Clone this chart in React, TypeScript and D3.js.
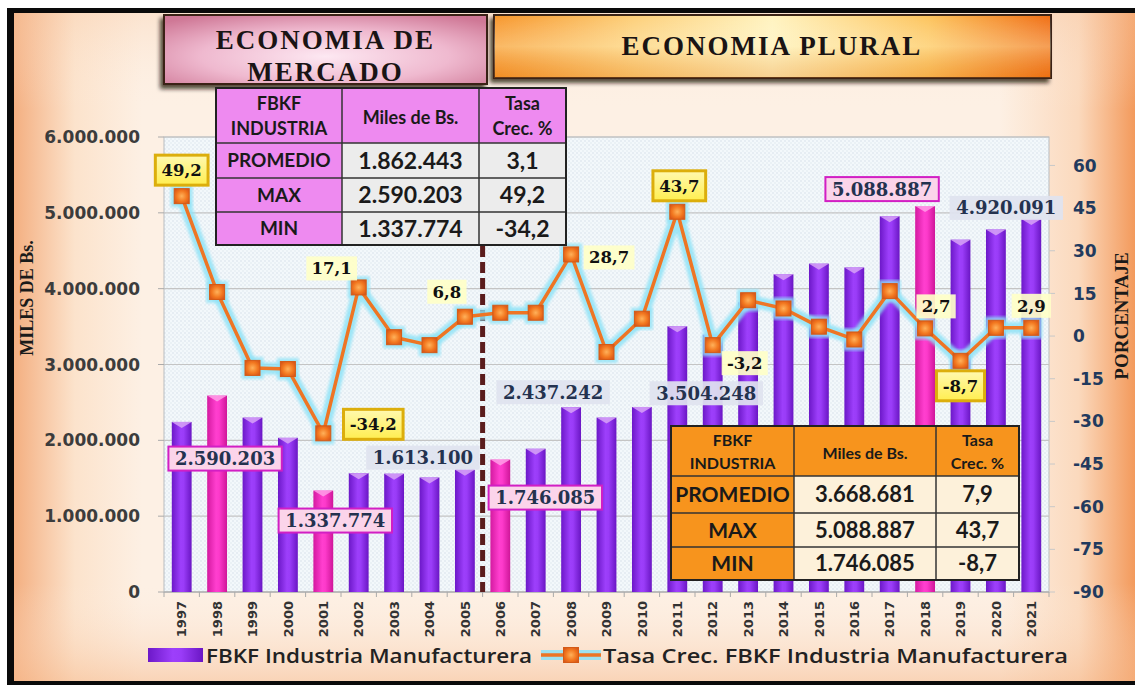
import React from "react";
import * as d3 from "d3";

const years = ["1997","1998","1999","2000","2001","2002","2003","2004","2005","2006","2007","2008","2009","2010","2011","2012","2013","2014","2015","2016","2017","2018","2019","2020","2021"];
const fbkfValues = [2243000,2590203,2300000,2033000,1337774,1566500,1560000,1510400,1613100,1746085,1889000,2437242,2300000,2440000,3504248,3392000,3820000,4190000,4330000,4280000,4955000,5088887,4646000,4781000,4920091];
const tasaValues = [49.2,15.5,-11.2,-11.6,-34.2,17.1,-0.4,-3.2,6.8,8.2,8.2,28.7,-5.6,6.1,43.7,-3.2,12.6,9.7,3.3,-1.2,15.8,2.7,-8.7,2.9,2.9];
const highlightYears = ["1998","2001","2006","2018"];
const leftTickValues = [0,1000000,2000000,3000000,4000000,5000000,6000000];
const rightTickValues = [-90,-75,-60,-45,-30,-15,0,15,30,45,60];
const statLabels = ["PROMEDIO","MAX","MIN"];
const stats1Miles = [1862443,2590203,1337774];
const stats1Tasa = [3.1,49.2,-34.2];
const stats2Miles = [3668681,5088887,1746085];
const stats2Tasa = [7.9,43.7,-8.7];
const titleLeft = ["ECONOMIA DE","MERCADO"];
const titleRight = "ECONOMIA PLURAL";
const legendBar = "FBKF Industria Manufacturera";
const legendLine = "Tasa Crec. FBKF Industria Manufacturera";
const axisLeftTitle = "MILES DE Bs.";
const axisRightTitle = "PORCENTAJE";
const splitYear = "2006";

// annotation placement (offsets from the data point)
const barLabelCfg = [
  { year: "1998", dx: 8, dy: 63, style: "pink" },
  { year: "2001", dx: 12, dy: 30, style: "pink" },
  { year: "2005", dx: -42, dy: -12, style: "blue" },
  { year: "2006", dx: 45, dy: 38, style: "pink" },
  { year: "2008", dx: -18, dy: -15, style: "blue" },
  { year: "2011", dx: 29, dy: 67, style: "blue" },
  { year: "2018", dx: -43, dy: -17, style: "pink" },
  { year: "2021", dx: -25, dy: -11, style: "blue" },
];
const rateLabelCfg = [
  { year: "1997", dx: 0, dy: -26, style: "box" },
  { year: "2001", dx: 50, dy: -9, style: "box" },
  { year: "2002", dx: -27, dy: -19, style: "pale" },
  { year: "2005", dx: -18, dy: -25, style: "pale" },
  { year: "2008", dx: 38, dy: 3, style: "pale" },
  { year: "2011", dx: 2, dy: -26, style: "box" },
  { year: "2012", dx: 32, dy: 18, style: "pale" },
  { year: "2018", dx: 11, dy: -22, style: "pale" },
  { year: "2019", dx: 0, dy: 25, style: "box" },
  { year: "2021", dx: 0, dy: -22, style: "pale" },
];

const locale = d3.formatLocale({ decimal: ",", thousands: ".", grouping: [3], currency: ["", ""], minus: "-" });
const fmtInt = locale.format(",.0f");
const fmtPct = locale.format(".1f");
const fmtTick = locale.format("d");

const W = 1135, H = 685;
const PL = 164, PR = 1049, PT = 137, PB = 592;

function textW(s: string, fs: number) {
  let w = 0;
  for (const c of s) w += /[0-9]/.test(c) ? 0.696 : c === "-" ? 0.415 : 0.38;
  return w * fs;
}

export default function App() {
  const x = d3.scaleBand<string>().domain(years).range([PL, PR]).paddingInner(0.44).paddingOuter(0.22);
  const bw = x.bandwidth();
  const cx = (yr: string) => (x(yr) as number) + bw / 2;
  const yL = d3.scaleLinear().domain([0, 6000000]).range([PB, PT]);
  const yR = d3.scaleLinear().domain([-90, 70]).range([PB, PT]);
  const step = x.step();

  const pts = years.map((yr, i) => [cx(yr), yR(tasaValues[i])] as [number, number]);
  const linePath = d3.line()(pts) as string;

  const serif = "'DejaVu Serif', serif";
  const tSerif = "'Liberation Serif', 'Times New Roman', serif";
  const sans = "'DejaVu Sans', sans-serif";
  const cal = "Lato, 'Open Sans', sans-serif";

  const splitX = (x(splitYear) as number) - (step - bw) / 2;

  const table = (x0: number, cols: number[], rows: number[], miles: number[], tasa: number[], theme: "pink" | "orange") => {
    const head = theme === "pink" ? "#ee8af0" : "#f7941d";
    const cell = theme === "pink" ? "#ececec" : "#fdf1da";
    const hfs = theme === "pink" ? 18 : 16;
    const lfs = theme === "pink" ? 19 : 21;
    const vfs = theme === "pink" ? 23 : 22;
    const xs = [x0, ...cols];
    return (
      <g fontFamily={cal} fontWeight={700} fill="#1a1a1a">
        <rect x={xs[0]} y={rows[0]} width={xs[3] - xs[0]} height={rows[1] - rows[0]} fill={head} />
        <rect x={xs[0]} y={rows[1]} width={xs[1] - xs[0]} height={rows[4] - rows[1]} fill={head} />
        <rect x={xs[1]} y={rows[1]} width={xs[3] - xs[1]} height={rows[4] - rows[1]} fill={cell} />
        {[1, 2, 3].map(r => <line key={"r" + r} x1={xs[0]} x2={xs[3]} y1={rows[r]} y2={rows[r]} stroke="#333" strokeWidth={1.5} />)}
        {[1, 2].map(c => <line key={"c" + c} x1={xs[c]} x2={xs[c]} y1={rows[0]} y2={rows[4]} stroke="#333" strokeWidth={1.5} />)}
        <rect x={xs[0]} y={rows[0]} width={xs[3] - xs[0]} height={rows[4] - rows[0]} fill="none" stroke="#222" strokeWidth={2} />
        <text x={(xs[0] + xs[1]) / 2} y={rows[0] + (rows[1] - rows[0]) * 0.4} textAnchor="middle" fontSize={hfs}>FBKF</text>
        <text x={(xs[0] + xs[1]) / 2} y={rows[0] + (rows[1] - rows[0]) * 0.85} textAnchor="middle" fontSize={hfs}>INDUSTRIA</text>
        <text x={(xs[1] + xs[2]) / 2} y={rows[0] + (rows[1] - rows[0]) * 0.66} textAnchor="middle" fontSize={hfs}>Miles de Bs.</text>
        <text x={(xs[2] + xs[3]) / 2} y={rows[0] + (rows[1] - rows[0]) * 0.4} textAnchor="middle" fontSize={hfs}>Tasa</text>
        <text x={(xs[2] + xs[3]) / 2} y={rows[0] + (rows[1] - rows[0]) * 0.85} textAnchor="middle" fontSize={hfs}>Crec. %</text>
        {statLabels.map((s, i) => {
          const yc = (rows[i + 1] + rows[i + 2]) / 2;
          return (
            <g key={s}>
              <text x={(xs[0] + xs[1]) / 2} y={yc} dy="0.36em" textAnchor="middle" fontSize={lfs}>{s}</text>
              <text x={(xs[1] + xs[2]) / 2} y={yc} dy="0.36em" textAnchor="middle" fontSize={vfs}>{fmtInt(miles[i])}</text>
              <text x={(xs[2] + xs[3]) / 2} y={yc} dy="0.36em" textAnchor="middle" fontSize={vfs}>{fmtPct(tasa[i])}</text>
            </g>
          );
        })}
      </g>
    );
  };

  return (
    <div style={{ position: "absolute", left: 0, top: 0, width: W, height: H }}>
      <svg width={W} height={H} viewBox={`0 0 ${W} ${H}`} style={{ display: "block" }}>
        <defs>
          <linearGradient id="bgH" x1="0" x2="1" y1="0" y2="0">
            <stop offset="0" stopColor="#f3a978" />
            <stop offset="0.06" stopColor="#fce3cc" />
            <stop offset="0.12" stopColor="#fdf0e4" />
            <stop offset="0.88" stopColor="#fdf0e4" />
            <stop offset="0.95" stopColor="#fbd9bd" />
            <stop offset="1" stopColor="#f39a5c" />
          </linearGradient>
          <linearGradient id="bgV" x1="0" x2="0" y1="0" y2="1">
            <stop offset="0" stopColor="#f8c9a4" stopOpacity="0.35" />
            <stop offset="0.15" stopColor="#fdf0e4" stopOpacity="0" />
            <stop offset="0.85" stopColor="#fdf0e4" stopOpacity="0" />
            <stop offset="1" stopColor="#f6b98c" stopOpacity="0.55" />
          </linearGradient>
          <pattern id="dots" width="4" height="4" patternUnits="userSpaceOnUse">
            <rect width="4" height="4" fill="#f3f8fb" />
            <circle cx="1" cy="1" r="0.7" fill="#cfdbe5" />
            <circle cx="3" cy="3" r="0.7" fill="#dbe5ec" />
          </pattern>
          <linearGradient id="gPurple" x1="0" x2="1" y1="0" y2="0">
            <stop offset="0" stopColor="#6c18c8" />
            <stop offset="0.45" stopColor="#9d3ffb" />
            <stop offset="0.6" stopColor="#9a3cf8" />
            <stop offset="1" stopColor="#6a16c4" />
          </linearGradient>
          <linearGradient id="gPink" x1="0" x2="1" y1="0" y2="0">
            <stop offset="0" stopColor="#d41aa0" />
            <stop offset="0.45" stopColor="#ff3fcf" />
            <stop offset="0.6" stopColor="#fd3acb" />
            <stop offset="1" stopColor="#cf1699" />
          </linearGradient>
          <radialGradient id="gMarker" cx="0.5" cy="0.5" r="0.6">
            <stop offset="0" stopColor="#ffb15a" />
            <stop offset="0.6" stopColor="#f2771f" />
            <stop offset="1" stopColor="#d9581a" />
          </radialGradient>
          <radialGradient id="gTitleL" cx="0.5" cy="0.6" r="0.7">
            <stop offset="0" stopColor="#fde8f2" />
            <stop offset="0.55" stopColor="#efb9cf" />
            <stop offset="1" stopColor="#cf7896" />
          </radialGradient>
          <linearGradient id="gTitleR" x1="0" x2="1" y1="0" y2="0">
            <stop offset="0" stopColor="#f7962a" />
            <stop offset="0.25" stopColor="#fdcf78" />
            <stop offset="0.5" stopColor="#fff3bf" />
            <stop offset="0.78" stopColor="#fdc45c" />
            <stop offset="1" stopColor="#f06d12" />
          </linearGradient>
          <linearGradient id="gTitleRV" x1="0" x2="0" y1="0" y2="1">
            <stop offset="0" stopColor="#ffffff" stopOpacity="0.0" />
            <stop offset="0.5" stopColor="#fff8d0" stopOpacity="0.35" />
            <stop offset="1" stopColor="#e07010" stopOpacity="0.25" />
          </linearGradient>
          <linearGradient id="gYellow" x1="0" x2="0" y1="0" y2="1">
            <stop offset="0" stopColor="#fff9b0" />
            <stop offset="1" stopColor="#ffee50" />
          </linearGradient>
          <filter id="shadow" x="-10%" y="-20%" width="120%" height="150%">
            <feDropShadow dx="-3" dy="4" stdDeviation="2" floodColor="#1a0a00" floodOpacity="0.75" />
          </filter>
          <filter id="glow" x="-5%" y="-5%" width="110%" height="110%">
            <feGaussianBlur stdDeviation="1.5" />
          </filter>
        </defs>

        {/* page background and frame */}
        <rect x={0} y={0} width={W} height={H} fill="#ffffff" />
        <rect x={7} y={8} width={W - 7} height={H - 8} fill="url(#bgH)" />
        <rect x={7} y={8} width={W - 7} height={H - 8} fill="url(#bgV)" />
        <rect x={7} y={8} width={7} height={H - 8} fill="#0a0a0a" />
        <rect x={7} y={8} width={W - 7} height={5} fill="#0a0a0a" />
        <rect x={7} y={H - 4} width={W - 7} height={4} fill="#0a0a0a" />

        {/* title boxes */}
        <g filter="url(#shadow)">
          <rect x={164} y={15} width={323} height={69} fill="url(#gTitleL)" stroke="#3a2418" strokeWidth={2} />
        </g>
        <text x={325.5} y={49} textAnchor="middle" fontFamily={tSerif} fontWeight={700} fontSize={27} letterSpacing={2} fill="#1a1414">{titleLeft[0]}</text>
        <text x={325.5} y={81} textAnchor="middle" fontFamily={tSerif} fontWeight={700} fontSize={27} letterSpacing={2} fill="#1a1414">{titleLeft[1]}</text>
        <g filter="url(#shadow)">
          <rect x={494} y={15} width={557} height={63} fill="url(#gTitleR)" stroke="#3a2418" strokeWidth={2} />
          <rect x={494} y={15} width={557} height={63} fill="url(#gTitleRV)" />
        </g>
        <text x={772} y={55} textAnchor="middle" fontFamily={tSerif} fontWeight={700} fontSize={27} letterSpacing={2} fill="#1a1414">{titleRight}</text>

        {/* plot area */}
        <rect x={PL} y={PT} width={PR - PL} height={PB - PT} fill="url(#dots)" stroke="#b8bcc0" strokeWidth={1} />
        {leftTickValues.map(v => (
          <line key={"g" + v} x1={PL} x2={PR} y1={yL(v)} y2={yL(v)} stroke="#c4c4c4" strokeWidth={1.2} />
        ))}
        {leftTickValues.map(v => (
          <g key={"lt" + v}>
            <line x1={PL - 6} x2={PL} y1={yL(v)} y2={yL(v)} stroke="#aaa" />
            <text x={140} y={yL(v)} dy="0.36em" textAnchor="end" fontFamily={sans} fontWeight={700} fontSize={17} fill="#3c3c3c">{fmtInt(v)}</text>
          </g>
        ))}
        {rightTickValues.map(v => (
          <g key={"rt" + v}>
            <line x1={PR} x2={PR + 6} y1={yR(v)} y2={yR(v)} stroke="#c8c8c8" />
            <text x={1073} y={yR(v)} dy="0.36em" textAnchor="start" fontFamily={sans} fontWeight={700} fontSize={17} fill="#223a5e">{fmtTick(v)}</text>
          </g>
        ))}
        {years.map(yr => (
          <line key={"xt" + yr} x1={(x(yr) as number) - (step - bw) / 2} x2={(x(yr) as number) - (step - bw) / 2} y1={PB} y2={PB + 5} stroke="#aaa" />
        ))}
        <line x1={PR} x2={PR} y1={PB} y2={PB + 5} stroke="#aaa" />
        <line x1={PL} x2={PR} y1={PB} y2={PB} stroke="#aaa" strokeWidth={1.2} />

        {/* bars */}
        {years.map((yr, i) => {
          const bx = x(yr) as number;
          const by = yL(fbkfValues[i]);
          const hl = highlightYears.includes(yr);
          return (
            <g key={"b" + yr}>
              <rect x={bx} y={by} width={bw} height={PB - by} fill={hl ? "url(#gPink)" : "url(#gPurple)"} />
              <path d={`M${bx},${by} L${bx + bw},${by} L${bx + bw / 2},${by + 6} Z`} fill={hl ? "#ff9fe8" : "#d7a3f6"} opacity={0.85} />
            </g>
          );
        })}

        {/* split line */}
        <line x1={splitX} x2={splitX} y1={246} y2={PB} stroke="#5a1c1c" strokeWidth={5} strokeDasharray="11,5" />

        {/* line series */}
        <path d={linePath} fill="none" stroke="#8fe3f7" strokeWidth={12} strokeLinejoin="round" opacity={0.85} filter="url(#glow)" />
        {pts.map((p, i) => (
          <rect key={"mg" + i} x={p[0] - 11} y={p[1] - 11} width={22} height={22} fill="#8fe3f7" opacity={0.8} filter="url(#glow)" />
        ))}
        <path d={linePath} fill="none" stroke="#ee7524" strokeWidth={3.5} strokeLinejoin="round" />
        {pts.map((p, i) => (
          <rect key={"m" + i} x={p[0] - 7.5} y={p[1] - 7.5} width={15} height={15} fill="url(#gMarker)" stroke="#d45a16" strokeWidth={1} />
        ))}

        {/* tables */}
        {table(216, [342, 479, 566], [88, 143, 178, 212, 245], stats1Miles, stats1Tasa, "pink")}
        {table(671, [794, 936, 1019], [426, 476, 513, 547, 580], stats2Miles, stats2Tasa, "orange")}

        {/* bar value labels */}
        {barLabelCfg.map(c => {
          const i = years.indexOf(c.year);
          const t = fmtInt(fbkfValues[i]);
          const fs = 18;
          const w = textW(t, fs) + 12;
          const h = 24;
          const lx = cx(c.year) + c.dx;
          const ly = yL(fbkfValues[i]) + c.dy;
          const pink = c.style === "pink";
          return (
            <g key={"bl" + c.year}>
              <rect x={lx - w / 2} y={ly - h / 2} width={w} height={h} fill={pink ? "#fbd4ea" : "#dfe3ef"} stroke={pink ? "#d21fc4" : "none"} strokeWidth={2} opacity={pink ? 1 : 0.92} />
              <text x={lx} y={ly} dy="0.36em" textAnchor="middle" fontFamily={serif} fontWeight={700} fontSize={fs} fill="#24324f">{t}</text>
            </g>
          );
        })}

        {/* rate labels */}
        {rateLabelCfg.map(c => {
          const i = years.indexOf(c.year);
          const t = fmtPct(tasaValues[i]);
          const fs = 16.5;
          const box = c.style === "box";
          const w = textW(t, fs) + (box ? 12 : 10);
          const h = box ? 30 : 24;
          const lx = cx(c.year) + c.dx;
          const ly = yR(tasaValues[i]) + c.dy;
          return (
            <g key={"rl" + c.year}>
              <rect x={lx - w / 2} y={ly - h / 2} width={w} height={h} fill={box ? "url(#gYellow)" : "#ffffc8"} stroke={box ? "#dcae0c" : "none"} strokeWidth={3} opacity={box ? 1 : 0.92} />
              <text x={lx} y={ly} dy="0.36em" textAnchor="middle" fontFamily={serif} fontWeight={700} fontSize={fs} fill="#111">{t}</text>
            </g>
          );
        })}

        {/* year labels */}
        {years.map(yr => (
          <text key={"yl" + yr} transform={`translate(${cx(yr)},601) rotate(-90)`} dy="0.36em" textAnchor="end" fontFamily={sans} fontWeight={700} fontSize={13} fill="#333">{yr}</text>
        ))}

        {/* axis titles */}
        <text transform="translate(27,298) rotate(-90)" dy="0.36em" textAnchor="middle" fontFamily={tSerif} fontWeight={700} fontSize={18} fill="#1a1a1a">{axisLeftTitle}</text>
        <text transform="translate(1121,316) rotate(-90)" dy="0.36em" textAnchor="middle" fontFamily={tSerif} fontWeight={700} fontSize={19} fill="#1a1a1a">{axisRightTitle}</text>

        {/* legend */}
        <rect x={148} y={648} width={55} height={14} fill="url(#gPurple)" />
        <text x={206} y={656} dy="0.36em" fontFamily="'Open Sans', sans-serif" fontWeight={600} fontSize={19} fill="#222" textLength={326} lengthAdjust="spacingAndGlyphs">{legendBar}</text>
        <line x1={541} x2={601} y1={655} y2={655} stroke="#8fe3f7" strokeWidth={10} opacity={0.85} />
        <line x1={541} x2={601} y1={655} y2={655} stroke="#ee7524" strokeWidth={3.5} />
        <rect x={563.5} y={647.5} width={15} height={15} fill="url(#gMarker)" stroke="#d45a16" />
        <text x={603} y={656} dy="0.36em" fontFamily="'Open Sans', sans-serif" fontWeight={600} fontSize={19} fill="#222" textLength={465} lengthAdjust="spacingAndGlyphs">{legendLine}</text>
      </svg>
    </div>
  );
}
